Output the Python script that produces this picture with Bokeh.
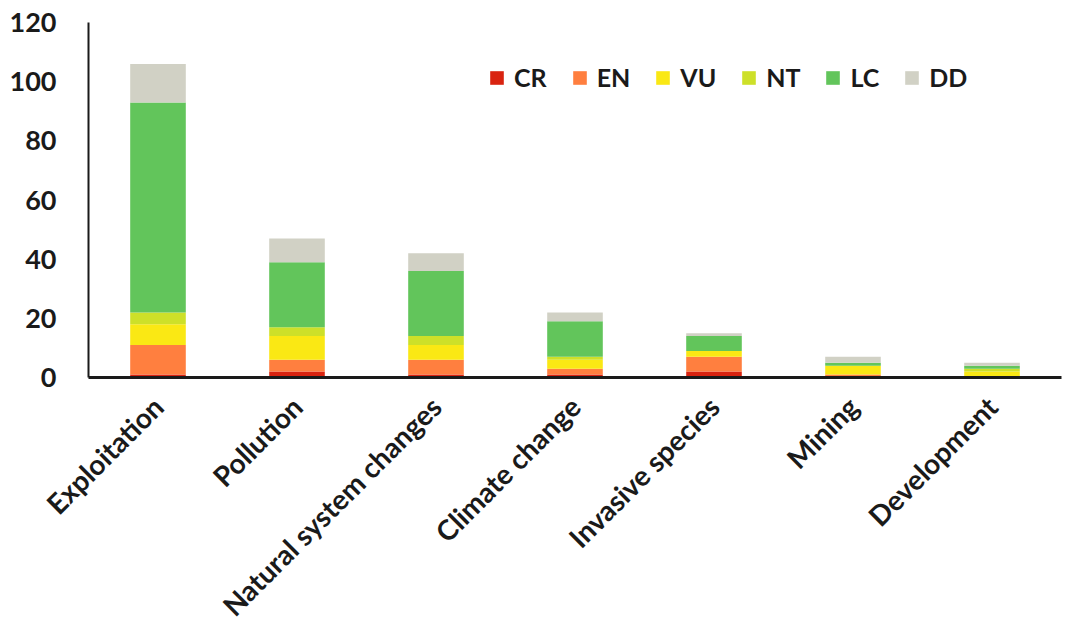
import math
from bokeh.plotting import figure
from bokeh.models import Legend, LegendItem, FactorRange, Range1d, FixedTicker
from bokeh.embed import file_html
from bokeh.resources import INLINE

categories = ["Exploitation", "Pollution", "Natural system changes", "Climate change",
              "Invasive species", "Mining", "Development"]
CR = [1, 2, 1, 1, 2, 0, 0]
EN = [10, 4, 5, 2, 5, 1, 0]
VU = [7, 8, 5, 3, 2, 3, 2]
NT = [4, 3, 3, 1, 0, 0, 1]
LC = [71, 22, 22, 12, 5, 1, 1]
DD = [13, 8, 6, 3, 1, 2, 1]
series = ["CR", "EN", "VU", "NT", "LC", "DD"]
colors = ["#D92310", "#FF7F3F", "#FAE814", "#CDE029", "#62C55B", "#D1D1C5"]
y_ticks = [0, 20, 40, 60, 80, 100, 120]

data = dict(cat=categories, CR=CR, EN=EN, VU=VU, NT=NT, LC=LC, DD=DD)

FONT = "Lato"

p = figure(width=1070, height=641, x_range=FactorRange(*categories, range_padding=0),
           y_range=Range1d(0, 120), output_backend="svg", toolbar_location=None,
           min_border_left=88, min_border_top=22, min_border_bottom=264, min_border_right=9)

renderers = p.vbar_stack(series, x="cat", width=0.40, source=data, color=colors,
                         line_color=None)

p.grid.visible = False
p.outline_line_color = None
p.background_fill_color = "white"

yax = p.yaxis[0]
yax.ticker = FixedTicker(ticks=y_ticks)
yax.major_tick_line_color = None
yax.minor_tick_line_color = None
yax.axis_line_color = "#1a1a1a"
yax.axis_line_width = 2
yax.major_label_text_font = FONT
yax.major_label_text_font_style = "bold"
yax.major_label_text_font_size = "27px"
yax.major_label_text_color = "#1a1a1a"
yax.major_label_standoff = 26

xax = p.xaxis[0]
xax.major_tick_line_color = None
xax.minor_tick_line_color = None
xax.axis_line_color = "#1a1a1a"
xax.axis_line_width = 3
xax.major_label_orientation = math.pi / 4
xax.major_label_text_font = FONT
xax.major_label_text_font_style = "bold"
xax.major_label_text_font_size = "28px"
xax.major_label_text_color = "#1a1a1a"
xax.major_label_standoff = 18

items = [LegendItem(label=s, renderers=[r]) for s, r in zip(series, renderers)]
legend = Legend(items=items, orientation="horizontal", location=(400, 285),
                glyph_width=17, glyph_height=17, label_standoff=9, spacing=24,
                padding=0, margin=0, border_line_color=None, background_fill_alpha=0,
                label_text_font=FONT, label_text_font_style="bold",
                label_text_font_size="25px", label_text_color="#1a1a1a")
p.add_layout(legend, "center")

open("out.html", "w").write(file_html(p, INLINE))
